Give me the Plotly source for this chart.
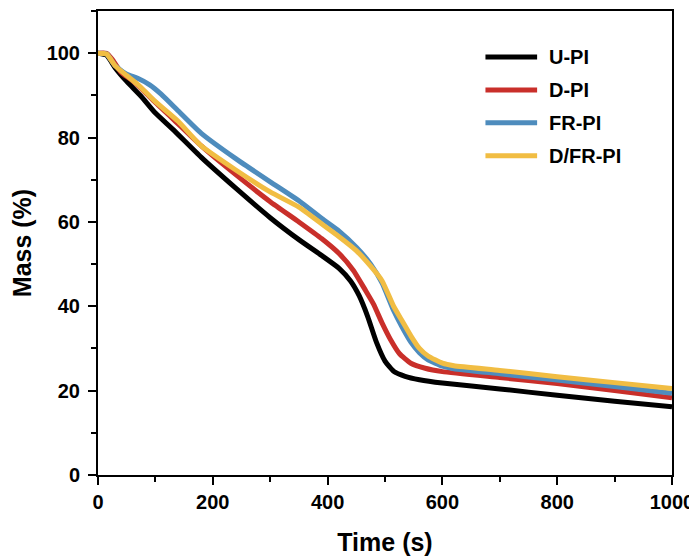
import plotly.graph_objects as go

# TGA mass-loss curves
names = ['U-PI', 'D-PI', 'FR-PI', 'D/FR-PI']
colors = ['#000000', '#C92F2A', '#4E8CBD', '#F1BD43']

t_upi = [0, 15, 30, 50, 75, 100, 130, 180, 240, 300, 350, 390, 420, 440, 455, 470, 485,
         500, 515, 535, 560, 600, 700, 800, 900, 1000]
m_upi = [100, 99.5, 96.5, 93.3, 89.8, 85.8, 82, 75.3, 68, 61, 55.8, 52, 49, 46, 42.5, 37.5, 31.5,
         27, 24.6, 23.4, 22.6, 21.8, 20.4, 18.9, 17.5, 16.2]

t_dpi = [0, 15, 25, 40, 60, 80, 100, 130, 180, 240, 300, 350, 390, 420, 445, 465, 480, 495,
         510, 525, 545, 570, 600, 700, 800, 900, 1000]
m_dpi = [100, 100, 98.5, 95.5, 93.5, 91, 88.3, 84.5, 78, 71.2, 64.8, 60, 56, 52.5, 48.5, 44,
         40.5, 36, 32, 28.8, 26.5, 25.3, 24.5, 23.1, 21.7, 20, 18.3]

t_frpi = [0, 15, 30, 50, 70, 90, 110, 140, 180, 240, 300, 350, 390, 420, 450, 475, 495, 515,
          530, 545, 560, 575, 600, 620, 700, 800, 900, 1000]
m_frpi = [100, 99.8, 97, 95, 94, 92.5, 90.3, 86.3, 81, 75, 69.5, 65, 60.8, 57.8, 54, 50, 45.5,
          39, 35, 31.5, 29, 27.3, 25.8, 25.2, 24, 22.5, 21, 19.4]

t_dfrpi = [0, 15, 30, 50, 70, 100, 140, 180, 240, 300, 350, 390, 420, 450, 475, 495, 515,
           530, 545, 560, 575, 600, 620, 700, 800, 900, 1000]
m_dfrpi = [100, 99.8, 97, 94.7, 92.5, 88.5, 83.8, 78, 72.3, 67.1, 63.5, 59.5, 56.5, 53.2, 49.5,
           46, 40, 36.5, 33, 30, 28.2, 26.5, 25.9, 24.8, 23.3, 21.9, 20.5]

times = [t_upi, t_dpi, t_frpi, t_dfrpi]
masses = [m_upi, m_dpi, m_frpi, m_dfrpi]

font = dict(family='Arial, Liberation Sans, sans-serif', color='black', weight='bold')

fig = go.Figure()
for name, c, t, m in zip(names, colors, times, masses):
    fig.add_trace(go.Scatter(x=t, y=m, name=name, mode='lines',
                             line=dict(color=c, width=5, shape='spline', smoothing=0.5)))

# hand-made legend, longer line samples than plotly's own
for i, (name, c) in enumerate(zip(names, colors)):
    yy = 0.901 - i * 0.071
    fig.add_shape(type='line', xref='paper', yref='paper', x0=0.675, x1=0.765, y0=yy, y1=yy,
                  line=dict(color=c, width=5))
    fig.add_annotation(x=0.783, y=yy, xref='paper', yref='paper', text=name, showarrow=False,
                       xanchor='left', yanchor='middle', font=dict(font, size=20))

fig.update_xaxes(range=[0, 1000], dtick=200, showgrid=False, zeroline=False,
                 showline=True, linecolor='black', linewidth=2, mirror=True,
                 ticks='outside', ticklen=8, tickwidth=2, tickcolor='black',
                 minor=dict(dtick=100, ticks='outside', ticklen=5, tickwidth=2, tickcolor='black'),
                 tickfont=dict(font, size=20),
                 title=dict(text='Time (s)', font=dict(font, size=25), standoff=21))
fig.update_yaxes(range=[0, 110], tickvals=[0, 20, 40, 60, 80, 100], showgrid=False, zeroline=False,
                 showline=True, linecolor='black', linewidth=2, mirror=True,
                 ticks='outside', ticklen=8, tickwidth=2, tickcolor='black', ticklabelstandoff=4,
                 minor=dict(dtick=10, ticks='outside', ticklen=5, tickwidth=2, tickcolor='black'),
                 tickfont=dict(font, size=20),
                 title=dict(text='Mass (%)', font=dict(font, size=25), standoff=8))
# page body adds an 8px offset, so the figure is 8px smaller than the window
fig.update_layout(width=689, height=548, showlegend=False,
                  margin=dict(l=90, r=25, t=3, b=81, autoexpand=False),
                  plot_bgcolor='white', paper_bgcolor='white')

fig.write_html("out.html")
